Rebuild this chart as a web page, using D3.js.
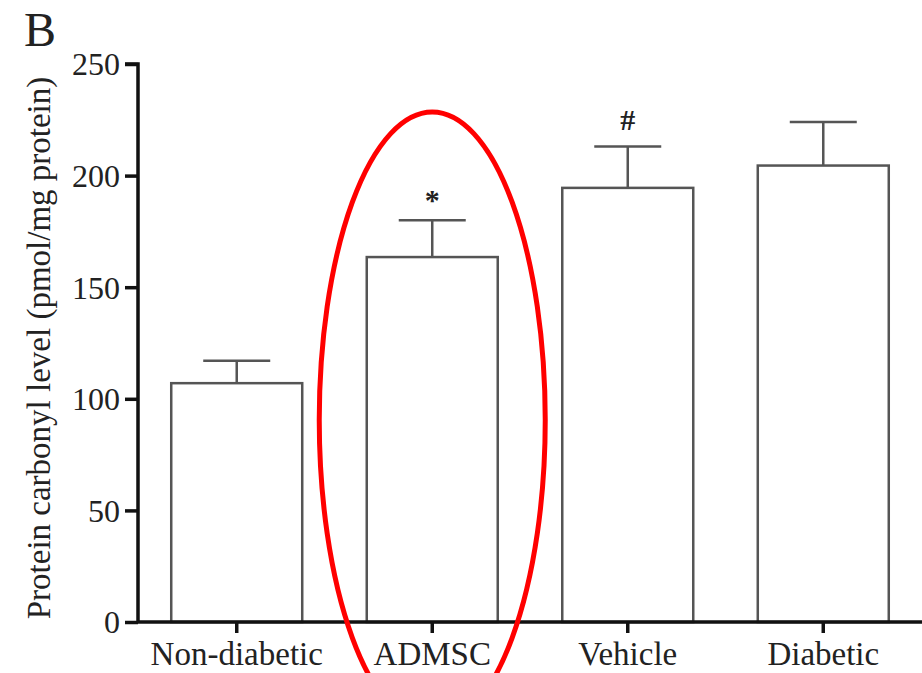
<!DOCTYPE html>
<html>
<head>
<meta charset="utf-8">
<script src="https://cdn.jsdelivr.net/npm/d3@7"></script>
<style>
  body { margin: 0; background: #fff; }
  text { font-family: "Liberation Serif", "DejaVu Serif", serif; fill: #222; }
</style>
</head>
<body>
<div class="chart"></div>
<script>
// values
const groups = ["Non-diabetic", "ADMSC", "Vehicle", "Diabetic"];
const means = [107, 163.5, 194.5, 204.5];
const errors = [10, 16.5, 18.5, 19.5];
const marks = ["", "*", "#", ""];
const yTicks = [0, 50, 100, 150, 200, 250];

var width = 922, height = 673;
var margin = {top: 64, right: 0, bottom: 51, left: 138};

const svg = d3.select(".chart").append("svg")
    .attr("width", width)
    .attr("height", height);

const xScale = d3.scaleBand()
    .domain(groups)
    .range([margin.left, width - margin.right])
    .paddingInner(0.33)
    .paddingOuter(0.17);

const yScale = d3.scaleLinear()
    .domain([0, 250])
    .range([height - margin.bottom, margin.top]);

const data = groups.map((g, i) => ({g: g, m: means[i], e: errors[i], s: marks[i]}));

// bars
svg.selectAll(".bar")
    .data(data)
    .enter().append("rect")
    .attr("class", "bar")
    .attr("x", d => xScale(d.g))
    .attr("y", d => yScale(d.m))
    .attr("width", xScale.bandwidth())
    .attr("height", d => yScale(0) - yScale(d.m))
    .attr("fill", "#fff")
    .attr("stroke", "#555")
    .attr("stroke-width", 2.5);

// error bars (upper only)
const capW = 67;
svg.selectAll(".err")
    .data(data)
    .enter().append("path")
    .attr("class", "err")
    .attr("fill", "none")
    .attr("stroke", "#555")
    .attr("stroke-width", 2.5)
    .attr("d", d => {
        const cx = xScale(d.g) + xScale.bandwidth() / 2;
        return `M${cx},${yScale(d.m)}V${yScale(d.m + d.e)}M${cx - capW / 2},${yScale(d.m + d.e)}H${cx + capW / 2}`;
    });

// significance marks
svg.selectAll(".sig")
    .data(data)
    .enter().append("text")
    .attr("class", "sig")
    .attr("x", d => xScale(d.g) + xScale.bandwidth() / 2)
    .attr("y", d => yScale(d.m + d.e) - (d.s === "*" ? 10 : 17))
    .attr("text-anchor", "middle")
    .attr("font-size", 30)
    .attr("font-weight", "bold")
    .text(d => d.s);

// axes
const yAxis = d3.axisLeft(yScale).tickValues(yTicks).tickSize(13).tickPadding(5);
const xAxis = d3.axisBottom(xScale).tickSize(11).tickPadding(8).tickSizeOuter(0);

const gy = svg.append("g")
    .attr("class", "axis y-axis")
    .attr("transform", `translate(${margin.left},0)`)
    .call(yAxis);

const gx = svg.append("g")
    .attr("class", "axis x-axis")
    .attr("transform", `translate(0,${height - margin.bottom})`)
    .call(xAxis);

gx.select(".domain").attr("d", `M${margin.left},0H${width}`);

svg.selectAll(".axis .domain").attr("stroke", "#111").attr("stroke-width", 3.5);
svg.selectAll(".axis .tick line").attr("stroke", "#111").attr("stroke-width", 3.5);
gy.select(".domain").attr("d", `M-13,${yScale(250)}H0V${yScale(0)}`);
gy.selectAll(".tick text").attr("font-size", 32).attr("dy", "0.34em");
gx.selectAll(".tick text").attr("font-size", 33).attr("dy", "0.72em");
svg.selectAll(".axis text").style("font-family", "Liberation Serif").attr("fill", "#222");

// axis title
svg.append("text")
    .attr("transform", `translate(50,348) rotate(-90)`)
    .attr("text-anchor", "middle")
    .attr("font-size", 33)
    .text("Protein carbonyl level (pmol/mg protein)");

// panel letter
svg.append("text")
    .attr("x", 24)
    .attr("y", 46)
    .attr("font-size", 48)
    .attr("fill", "#111")
    .text("B");

// red highlight round the ADMSC bar
svg.append("ellipse")
    .attr("cx", xScale("ADMSC") + xScale.bandwidth() / 2)
    .attr("cy", 420)
    .attr("rx", 113)
    .attr("ry", 308)
    .attr("fill", "none")
    .attr("stroke", "#f00")
    .attr("stroke-width", 5);
</script>
</body>
</html>
